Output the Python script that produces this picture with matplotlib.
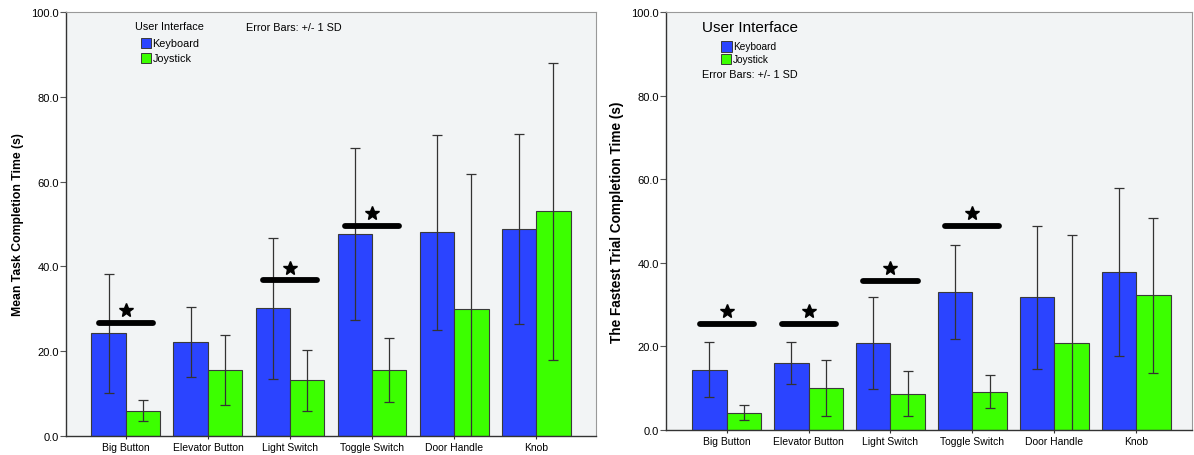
import matplotlib
matplotlib.use("Agg")
import matplotlib.pyplot as plt
import numpy as np
from matplotlib.patches import Rectangle

plt.rcParams['font.family'] = ['Liberation Sans', 'DejaVu Sans']

categories = ["Big Button", "Elevator Button", "Light Switch", "Toggle Switch", "Door Handle", "Knob"]

# Mean task completion time (s)
task_keyboard = [24.2, 22.2, 30.1, 47.6, 48.0, 48.8]
task_keyboard_sd = [14.0, 8.2, 16.6, 20.3, 23.0, 22.4]
task_joystick = [6.0, 15.6, 13.1, 15.6, 30.0, 53.0]
task_joystick_sd = [2.5, 8.3, 7.2, 7.5, 31.7, 35.0]
task_sig_idx = [0, 2, 3]
task_sig_level = [26.6, 36.7, 49.5]

# Fastest trial completion time (s)
fast_keyboard = [14.4, 16.0, 20.7, 33.0, 31.7, 37.9]
fast_keyboard_sd = [6.6, 5.0, 11.0, 11.3, 17.0, 20.1]
fast_joystick = [4.1, 10.1, 8.7, 9.2, 20.8, 32.2]
fast_joystick_sd = [1.8, 6.7, 5.4, 4.05, 25.8, 18.5]
fast_sig_idx = [0, 1, 2, 3]
fast_sig_level = [25.4, 25.4, 35.7, 48.8]

series_names = ["Keyboard", "Joystick"]
y_ticks = [0, 20, 40, 60, 80, 100]

BLUE = "#2B44FF"
GREEN = "#3CFF00"
BG = "#F2F4F5"
EDGE = "#3a3a3a"

fig = plt.figure(figsize=(11.94, 4.56), dpi=100)
ax1 = fig.add_axes([66 / 1194, 1 - 437 / 456, 530 / 1194, 424 / 456])
ax2 = fig.add_axes([666 / 1194, 1 - 431 / 456, 526 / 1194, 418 / 456])


def draw_panel(ax, kb, kb_sd, js, js_sd, sig_idx, sig_level, ylabel, ylabel_size, xlim):
    x = np.arange(len(categories))
    w = 0.42
    ax.set_facecolor(BG)
    ax.bar(x - w / 2, kb, w, color=BLUE, edgecolor=EDGE, linewidth=0.8, zorder=2)
    ax.bar(x + w / 2, js, w, color=GREEN, edgecolor=EDGE, linewidth=0.8, zorder=2)
    ax.errorbar(x - w / 2, kb, yerr=kb_sd, fmt='none', ecolor="#333333",
                elinewidth=0.9, capsize=3.5, capthick=0.9, zorder=3)
    ax.errorbar(x + w / 2, js, yerr=js_sd, fmt='none', ecolor="#333333",
                elinewidth=0.9, capsize=3.5, capthick=0.9, zorder=3)
    # significance markers: thick bar with a star above it
    for i, lvl in zip(sig_idx, sig_level):
        ax.plot([i - 0.33, i + 0.33], [lvl, lvl], color="black", lw=4.2,
                solid_capstyle='round', zorder=4)
        ax.plot([i], [lvl + 3.0], marker='*', color="black", markersize=10.5, zorder=4)
    ax.set_xlim(*xlim)
    ax.set_ylim(0, 100)
    ax.set_yticks(y_ticks)
    ax.set_yticklabels([f"{v:.1f}" for v in y_ticks], fontsize=8)
    ax.set_xticks(x)
    ax.set_xticklabels(categories, fontsize=7.5)
    ax.tick_params(axis='x', length=5, width=0.8, color="#333333", pad=2, direction='inout')
    ax.tick_params(axis='y', length=4, width=0.8, color="#555555", pad=1)
    for s in ['left', 'bottom']:
        ax.spines[s].set_color("#333333")
        ax.spines[s].set_linewidth(1.0)
    for s in ['top', 'right']:
        ax.spines[s].set_color("#999999")
        ax.spines[s].set_linewidth(0.8)
    ax.set_ylabel(ylabel, fontsize=ylabel_size, fontweight='bold', labelpad=5)


draw_panel(ax1, task_keyboard, task_keyboard_sd, task_joystick, task_joystick_sd,
           task_sig_idx, task_sig_level, "Mean Task Completion Time (s)", 8.8, (-0.73, 5.73))
draw_panel(ax2, fast_keyboard, fast_keyboard_sd, fast_joystick, fast_joystick_sd,
           fast_sig_idx, fast_sig_level, "The Fastest Trial Completion Time (s)", 9.8, (-0.74, 5.68))


def legend_block(title_xy, title_size, patch_x, patch_ys, text_size):
    fig.text(title_xy[0] / 1194, 1 - title_xy[1] / 456, "User Interface",
             fontsize=title_size, va='center', ha='left')
    cols = [BLUE, GREEN]
    for name, c, (y0, y1) in zip(series_names, cols, patch_ys):
        h = (y1 - y0)
        fig.patches.append(Rectangle((patch_x / 1194, 1 - y1 / 456), h / 1194, h / 456,
                                     transform=fig.transFigure, facecolor=c,
                                     edgecolor=EDGE, linewidth=0.7))
        fig.text((patch_x + h + 1.5) / 1194, 1 - (y0 + y1) / 2 / 456, name,
                 fontsize=text_size, va='center', ha='left')


legend_block((135, 27), 7.8, 141, [(39, 49), (54, 64)], 7.8)
fig.text(246 / 1194, 1 - 28 / 456, "Error Bars: +/- 1 SD", fontsize=7.8, va='center', ha='left')

legend_block((702, 28), 11, 721, [(42, 53), (55, 65)], 7.3)
fig.text(702 / 1194, 1 - 75 / 456, "Error Bars: +/- 1 SD", fontsize=7.8, va='center', ha='left')

fig.savefig("out.png", dpi=100)
